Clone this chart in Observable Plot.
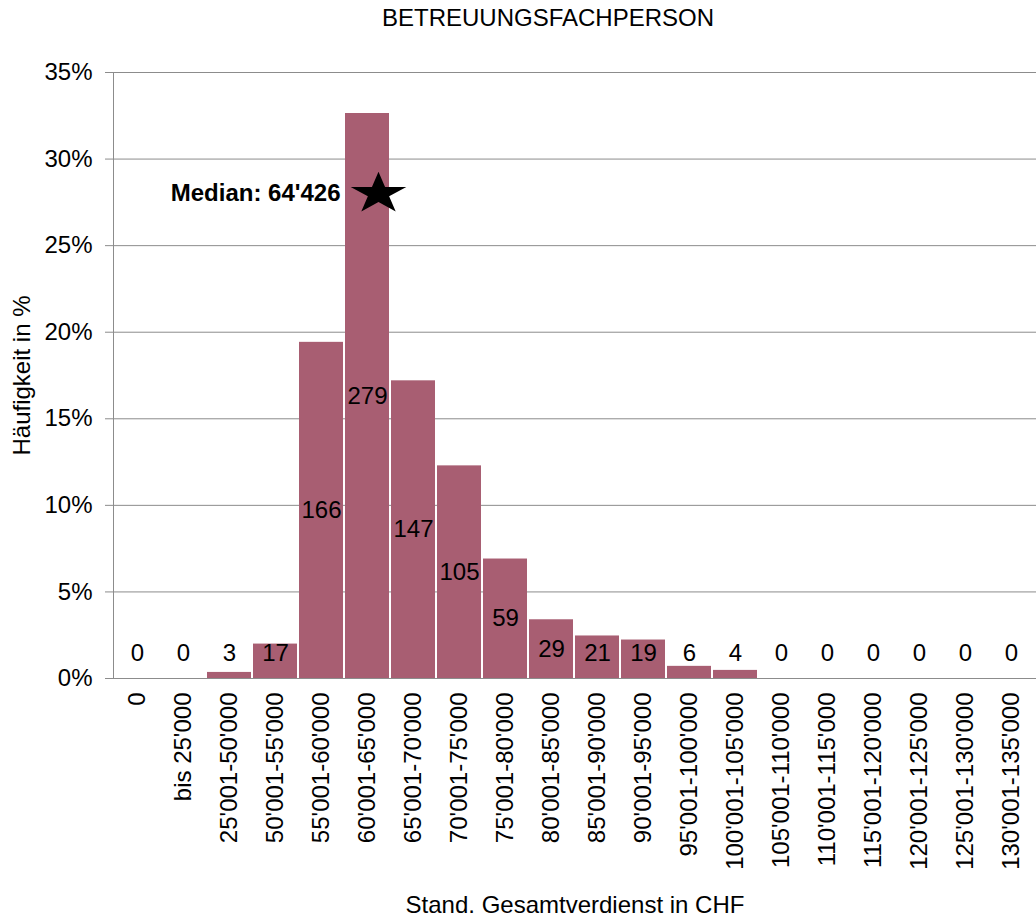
<!DOCTYPE html>
<html>
<head>
<meta charset="utf-8">
<script src="https://cdn.jsdelivr.net/npm/d3@7"></script>
<script src="https://cdn.jsdelivr.net/npm/@observablehq/plot@0.6"></script>
<style>
  html, body { margin: 0; padding: 0; background: #fff; }
  #chart svg { display: block; }
</style>
</head>
<body>
<div id="chart"></div>
<script>
// Salary bands (standardised total earnings, CHF)
const categories = [
  "0", "bis 25'000", "25'001-50'000", "50'001-55'000", "55'001-60'000",
  "60'001-65'000", "65'001-70'000", "70'001-75'000", "75'001-80'000",
  "80'001-85'000", "85'001-90'000", "90'001-95'000", "95'001-100'000",
  "100'001-105'000", "105'001-110'000", "110'001-115'000", "115'001-120'000",
  "120'001-125'000", "125'001-130'000", "130'001-135'000"
];
// Number of persons per band
const counts = [0, 0, 3, 17, 166, 279, 147, 105, 59, 29, 21, 19, 6, 4, 0, 0, 0, 0, 0, 0];
// Y-axis ticks (share of persons)
const yTicks = [0, 0.05, 0.10, 0.15, 0.20, 0.25, 0.30, 0.35];
// Median marker
const medianLabel = "Median: 64'426";
const medianBand = "60'001-65'000";
const medianShare = 0.28;

const titleText = "BETREUUNGSFACHPERSON";
const xTitle = "Stand. Gesamtverdienst in CHF";
const yTitle = "Häufigkeit in %";

const total = d3.sum(counts);
const rows = categories.map((category, i) => ({category, count: counts[i], share: counts[i] / total}));

// Five-pointed star, drawn a little wider than tall
const wideStar = {
  draw(context, size) {
    const R = Math.sqrt(size / Math.PI);
    const r = R * 0.382;
    const sx = 1.33;
    for (let k = 0; k < 10; ++k) {
      const rad = k % 2 ? r : R;
      const a = -Math.PI / 2 + k * Math.PI / 5;
      const px = Math.cos(a) * rad * sx, py = Math.sin(a) * rad;
      k ? context.lineTo(px, py) : context.moveTo(px, py);
    }
    context.closePath();
  }
};

const barColor = "#a85e72";
const gridColor = "#8c8c8c";

const chart = Plot.plot({
  width: 1036,
  height: 922,
  marginTop: 72,
  marginBottom: 244,
  marginLeft: 113,
  marginRight: 0,
  style: {fontFamily: "'Liberation Sans', Arial, sans-serif", fontSize: "24px", color: "#000", background: "#fff"},
  x: {domain: categories, paddingInner: 0.04, paddingOuter: 0.02},
  y: {domain: [0, 0.35]},
  marks: [
    Plot.gridY(yTicks, {stroke: gridColor, strokeOpacity: 1, strokeWidth: 1}),
    Plot.barY(rows, {x: "category", y: "share", fill: barColor}),
    Plot.frame({anchor: "left", stroke: gridColor, strokeWidth: 1}),
    Plot.axisY(yTicks, {
      stroke: gridColor, strokeOpacity: 1, tickSize: 8, tickPadding: 13,
      tickFormat: d => `${Math.round(d * 100)}%`, label: null, fill: "#000"
    }),
    Plot.axisX({tickSize: 0, tickPadding: 14, tickRotate: -90, label: null, fill: "#000"}),
    Plot.ruleY([0], {stroke: gridColor, strokeWidth: 1}),
    Plot.text(rows, {
      x: "category",
      y: d => Math.max(d.share / 2, 0.0144),
      text: "count",
      fill: "#000",
      lineAnchor: "middle"
    }),
    Plot.text([medianLabel], {
      x: [medianBand], y: [medianShare], text: d => d,
      textAnchor: "end", dx: -27, fontWeight: "bold", lineAnchor: "middle", fill: "#000"
    }),
    Plot.dot([medianBand], {
      x: d => d, y: [medianShare], symbol: wideStar, r: 22, fill: "#000", stroke: "none", dx: 11
    }),
    Plot.text([titleText], {text: d => d, frameAnchor: "top", dx: -27, dy: -54, lineAnchor: "middle", fill: "#000"}),
    Plot.text([yTitle], {text: d => d, frameAnchor: "left", dx: -91, rotate: -90, lineAnchor: "middle", textAnchor: "middle", fill: "#000"}),
    Plot.text([xTitle], {text: d => d, frameAnchor: "bottom", dy: 227, lineAnchor: "middle", fill: "#000"})
  ]
});

document.getElementById("chart").appendChild(chart);
</script>
</body>
</html>
